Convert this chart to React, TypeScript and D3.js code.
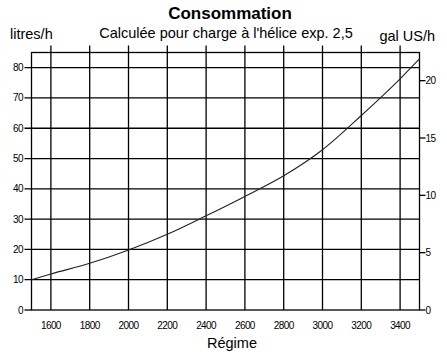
import React, { useEffect, useRef } from 'react';
import * as d3 from 'd3';

// engine speed (rpm) and fuel flow
const regime = [1500, 1600, 1800, 2000, 2200, 2400, 2600, 2800, 3000, 3200, 3400, 3500];
const litresH = [10, 11.9, 15.4, 19.8, 25.0, 31.1, 37.5, 44.3, 52.9, 64.2, 76.3, 82.9];

const xTicks = [1600, 1800, 2000, 2200, 2400, 2600, 2800, 3000, 3200, 3400];
const leftTicks = [0, 10, 20, 30, 40, 50, 60, 70, 80];
const rightTicks = [0, 5, 10, 15, 20];

const LITRES_PER_GAL = 3.785;

const App = () => {
  const ref = useRef<SVGSVGElement | null>(null);

  useEffect(() => {
    const svg = d3.select(ref.current);
    svg.selectAll('*').remove();

    const left = 31.5, right = 419.5, top = 52.5, bottom = 310;
    const font = 'Liberation Sans, Arial, Helvetica, sans-serif';

    const x = d3.scaleLinear().domain([1500, 3500]).range([left, right]);
    const y = d3.scaleLinear().domain([0, 85]).range([bottom, top]);
    const yGal = d3.scaleLinear().domain([0, 85 / LITRES_PER_GAL]).range([bottom, top]);

    const g = svg.append('g');

    // horizontal grid
    g.selectAll('line.h')
      .data(leftTicks.filter(d => d > 0))
      .enter()
      .append('line')
      .attr('x1', left - 7).attr('x2', right)
      .attr('y1', d => y(d)).attr('y2', d => y(d))
      .attr('stroke', '#000').attr('stroke-width', 1.3);

    // vertical grid with ticks above the frame
    g.selectAll('line.v')
      .data(xTicks)
      .enter()
      .append('line')
      .attr('x1', d => x(d)).attr('x2', d => x(d))
      .attr('y1', top - 7).attr('y2', bottom)
      .attr('stroke', '#000').attr('stroke-width', 1.3);

    // frame
    g.append('rect')
      .attr('x', left).attr('y', top)
      .attr('width', right - left).attr('height', bottom - top)
      .attr('fill', 'none').attr('stroke', '#000').attr('stroke-width', 1.3);

    // left ticks for 0
    g.append('line')
      .attr('x1', left - 7).attr('x2', left)
      .attr('y1', y(0)).attr('y2', y(0))
      .attr('stroke', '#000').attr('stroke-width', 1.3);

    // right axis ticks
    g.selectAll('line.r')
      .data(rightTicks)
      .enter()
      .append('line')
      .attr('x1', right).attr('x2', right + 6)
      .attr('y1', d => yGal(d)).attr('y2', d => yGal(d))
      .attr('stroke', '#000').attr('stroke-width', 1.3);

    // curve
    const line = d3.line<number>()
      .x((d, i) => x(regime[i]))
      .y(d => y(d))
      .curve(d3.curveMonotoneX);

    g.append('path')
      .datum(litresH)
      .attr('d', line)
      .attr('fill', 'none')
      .attr('stroke', '#222')
      .attr('stroke-width', 1.1);

    // tick labels
    g.selectAll('text.x')
      .data(xTicks)
      .enter()
      .append('text')
      .attr('x', d => x(d)).attr('y', 329)
      .attr('text-anchor', 'middle')
      .attr('font-family', font).attr('font-size', 10)
      .attr('letter-spacing', -0.6)
      .text(d => d);

    g.selectAll('text.l')
      .data(leftTicks)
      .enter()
      .append('text')
      .attr('x', 23).attr('y', d => y(d) + 3.5)
      .attr('text-anchor', 'end')
      .attr('font-family', font).attr('font-size', 10)
      .attr('letter-spacing', -0.6)
      .text(d => d);

    g.selectAll('text.r')
      .data(rightTicks)
      .enter()
      .append('text')
      .attr('x', right + 6).attr('y', d => yGal(d) + 3.5)
      .attr('font-family', font).attr('font-size', 10)
      .attr('letter-spacing', -0.6)
      .text(d => d);

    // titles
    g.append('text')
      .attr('x', 230).attr('y', 19)
      .attr('text-anchor', 'middle')
      .attr('font-family', font).attr('font-size', 17).attr('font-weight', 'bold')
      .text('Consommation');

    g.append('text')
      .attr('x', 226).attr('y', 38)
      .attr('text-anchor', 'middle')
      .attr('font-family', font).attr('font-size', 14.5)
      .text("Calculée pour charge à l'hélice exp. 2,5");

    g.append('text')
      .attr('x', 10).attr('y', 39)
      .attr('font-family', font).attr('font-size', 14.5)
      .text('litres/h');

    g.append('text')
      .attr('x', 435).attr('y', 41)
      .attr('text-anchor', 'end')
      .attr('font-family', font).attr('font-size', 14.5)
      .text('gal US/h');

    g.append('text')
      .attr('x', 232).attr('y', 348)
      .attr('text-anchor', 'middle')
      .attr('font-family', font).attr('font-size', 14.5)
      .text('Régime');
  }, []);

  return (
    <svg
      ref={ref}
      width={447}
      height={360}
      style={{ position: 'absolute', left: 0, top: 0, background: '#fff' }}
    />
  );
};

export default App;
